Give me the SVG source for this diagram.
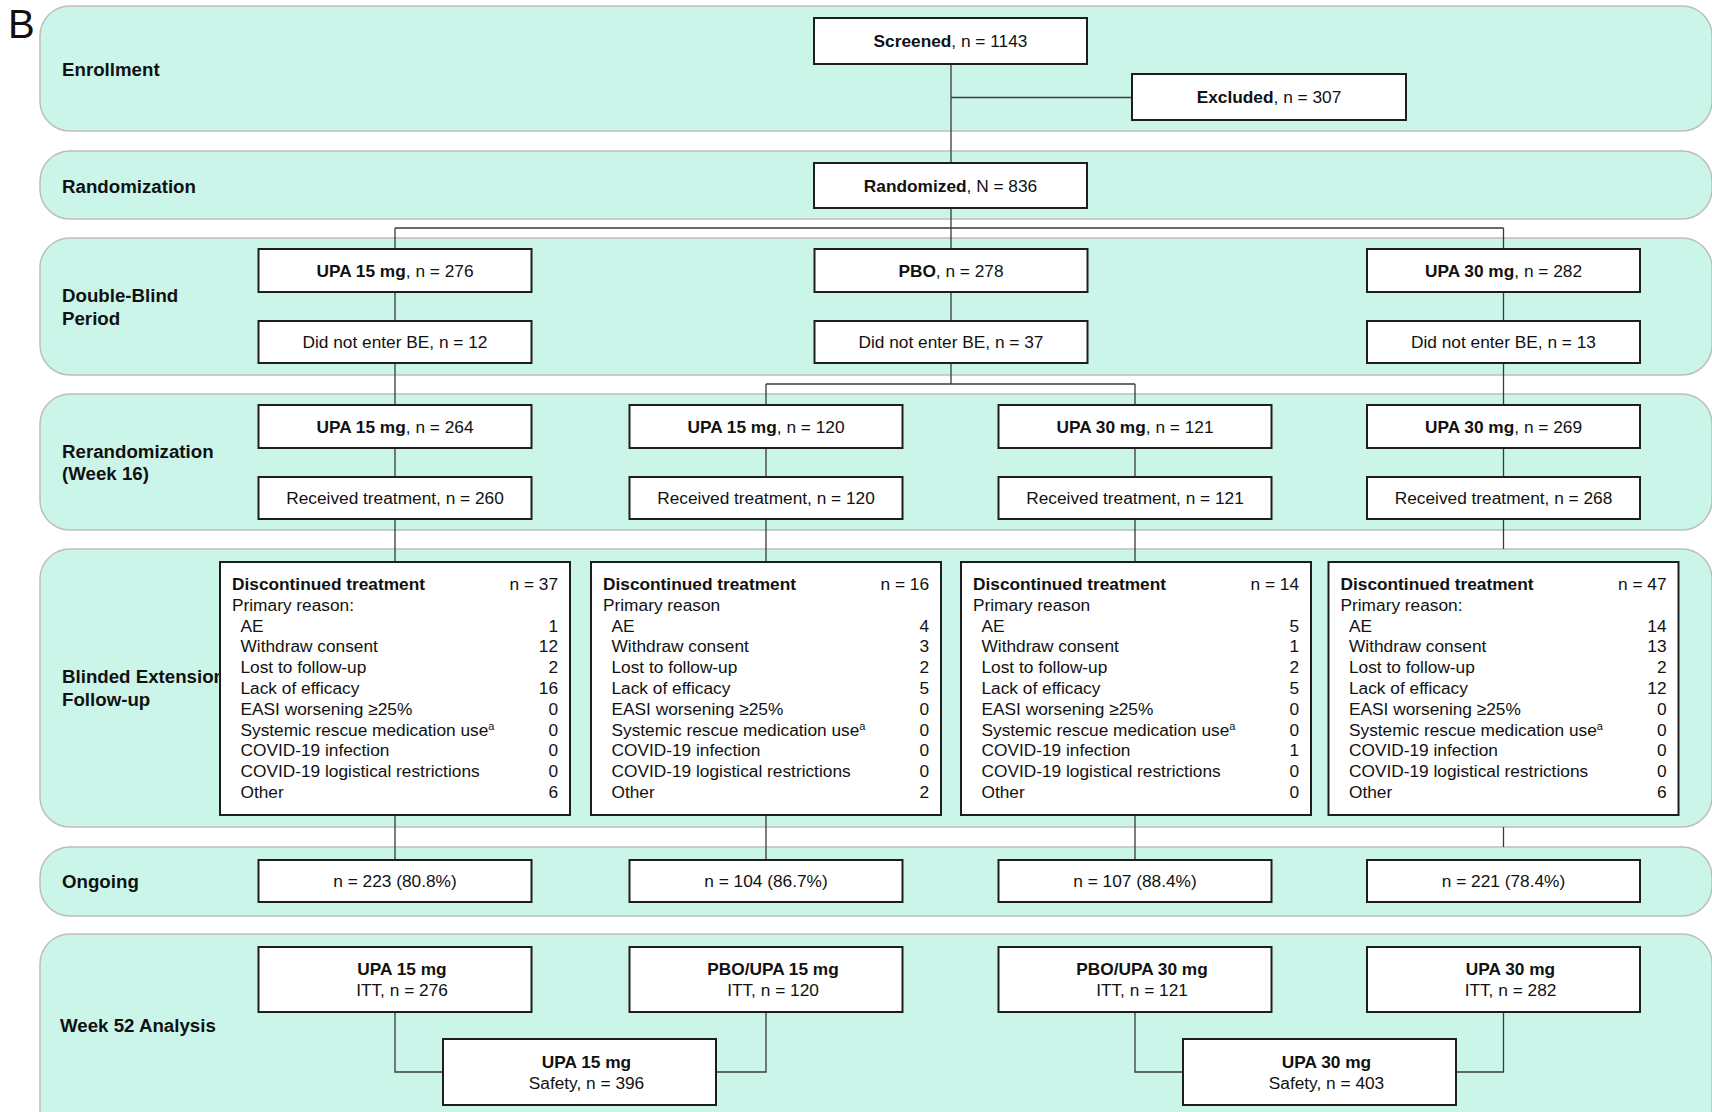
<svg xmlns="http://www.w3.org/2000/svg" width="1712" height="1112" viewBox="0 0 1712 1112">
<style>
.band{fill:#CCF5EA;stroke:#BDBDBD;stroke-width:1.5}
.box{fill:#fff;stroke:#1e1e1e;stroke-width:2}
.lbl{font-family:"Liberation Sans",Arial,sans-serif;font-size:18.7px;font-weight:bold;fill:#111}
.t{font-family:"Liberation Sans",Arial,sans-serif;font-size:17.3px;fill:#111}
.b{font-weight:bold}
.c{text-anchor:middle}
.r{text-anchor:end}
.conn path{stroke:#3a3a3a;stroke-width:1.3;fill:none}
</style>
<rect width="1712" height="1112" fill="#fff"/>
<text x="8" y="38" font-family="Liberation Sans, Arial, sans-serif" font-size="40" fill="#111">B</text>
<g id="bands">
<rect class="band" x="40" y="6" width="1672" height="125" rx="30"/>
<rect class="band" x="40" y="151" width="1672" height="68" rx="30"/>
<rect class="band" x="40" y="238" width="1672" height="137" rx="30"/>
<rect class="band" x="40" y="394" width="1672" height="136" rx="30"/>
<rect class="band" x="40" y="549" width="1672" height="278" rx="30"/>
<rect class="band" x="40" y="847" width="1672" height="69" rx="30"/>
<rect class="band" x="40" y="934" width="1672" height="220" rx="30"/>
</g>
<g id="labels">
<text class="lbl" x="62" y="76">Enrollment</text>
<text class="lbl" x="62" y="192.5">Randomization</text>
<text class="lbl" x="62" y="302">Double-Blind</text>
<text class="lbl" x="62" y="324.5">Period</text>
<text class="lbl" x="62" y="457.5">Rerandomization</text>
<text class="lbl" x="62" y="480">(Week 16)</text>
<text class="lbl" x="62" y="683">Blinded Extension</text>
<text class="lbl" x="62" y="706">Follow-up</text>
<text class="lbl" x="62" y="888">Ongoing</text>
<text class="lbl" x="60" y="1031.5">Week 52 Analysis</text>
</g>
<g id="connectors" class="conn">
<path d="M951 64V163M951 97.5H1132M951 208V228M395 228H1503.5"/>
<path d="M395 228V249M951 228V249M1503.5 228V249"/>
<path d="M395 292V321M951 292V321M1503.5 292V321"/>
<path d="M395 363V405M951 363V384M766 384H1135M766 384V405M1135 384V405M1503.5 363V405"/>
<path d="M395 448V477M766 448V477M1135 448V477M1503.5 448V477"/>
<path d="M395 519V562M766 519V562M1135 519V562M1503.5 519V549"/>
<path d="M395 815V860M766 815V860M1135 815V860M1503.5 827V847"/>
<path d="M395 1012V1072H443M766 1012V1072H716M1135 1012V1072H1183M1503.5 1012V1072H1456"/>
</g>
<g id="screened"><rect class="box" x="814" y="18" width="273" height="46"/><text class="t c" x="950.5" y="47"><tspan class="b">Screened</tspan>, n = 1143</text></g>
<g id="excluded"><rect class="box" x="1132" y="74" width="274" height="46"/><text class="t c" x="1269" y="103"><tspan class="b">Excluded</tspan>, n = 307</text></g>
<g id="randomized"><rect class="box" x="814" y="163" width="273" height="45"/><text class="t c" x="950.5" y="191.5"><tspan class="b">Randomized</tspan>, N = 836</text></g>
<g id="db-upa15"><rect class="box" x="258.5" y="249" width="273" height="43"/><text class="t c" x="395" y="276.5"><tspan class="b">UPA 15 mg</tspan>, n = 276</text></g>
<g id="db-pbo"><rect class="box" x="814.5" y="249" width="273" height="43"/><text class="t c" x="951" y="276.5"><tspan class="b">PBO</tspan>, n = 278</text></g>
<g id="db-upa30"><rect class="box" x="1367" y="249" width="273" height="43"/><text class="t c" x="1503.5" y="276.5"><tspan class="b">UPA 30 mg</tspan>, n = 282</text></g>
<g id="dne-upa15"><rect class="box" x="258.5" y="321" width="273" height="42"/><text class="t c" x="395" y="348">Did not enter BE, n = 12</text></g>
<g id="dne-pbo"><rect class="box" x="814.5" y="321" width="273" height="42"/><text class="t c" x="951" y="348">Did not enter BE, n = 37</text></g>
<g id="dne-upa30"><rect class="box" x="1367" y="321" width="273" height="42"/><text class="t c" x="1503.5" y="348">Did not enter BE, n = 13</text></g>
<g id="rr-upa15"><rect class="box" x="258.5" y="405" width="273" height="43"/><text class="t c" x="395" y="432.5"><tspan class="b">UPA 15 mg</tspan>, n = 264</text></g>
<g id="rr-pbo15"><rect class="box" x="629.5" y="405" width="273" height="43"/><text class="t c" x="766" y="432.5"><tspan class="b">UPA 15 mg</tspan>, n = 120</text></g>
<g id="rr-pbo30"><rect class="box" x="998.5" y="405" width="273" height="43"/><text class="t c" x="1135" y="432.5"><tspan class="b">UPA 30 mg</tspan>, n = 121</text></g>
<g id="rr-upa30"><rect class="box" x="1367" y="405" width="273" height="43"/><text class="t c" x="1503.5" y="432.5"><tspan class="b">UPA 30 mg</tspan>, n = 269</text></g>
<g id="rt-1"><rect class="box" x="258.5" y="477" width="273" height="42"/><text class="t c" x="395" y="504">Received treatment, n = 260</text></g>
<g id="rt-2"><rect class="box" x="629.5" y="477" width="273" height="42"/><text class="t c" x="766" y="504">Received treatment, n = 120</text></g>
<g id="rt-3"><rect class="box" x="998.5" y="477" width="273" height="42"/><text class="t c" x="1135" y="504">Received treatment, n = 121</text></g>
<g id="rt-4"><rect class="box" x="1367" y="477" width="273" height="42"/><text class="t c" x="1503.5" y="504">Received treatment, n = 268</text></g>
<g id="disc-1">
<rect class="box" x="220" y="562" width="350" height="253"/>
<text class="t b" x="232" y="590">Discontinued treatment</text><text class="t r" x="558" y="590">n = 37</text>
<text class="t" x="232" y="610.8">Primary reason:</text>
<text class="t" x="240.5"><tspan x="240.5" y="631.6">AE</tspan><tspan x="240.5" y="652.4">Withdraw consent</tspan><tspan x="240.5" y="673.2">Lost to follow-up</tspan><tspan x="240.5" y="694">Lack of efficacy</tspan><tspan x="240.5" y="714.8">EASI worsening ≥25%</tspan><tspan x="240.5" y="735.6">Systemic rescue medication use</tspan><tspan font-size="11" dy="-6">a</tspan><tspan x="240.5" y="756.4">COVID-19 infection</tspan><tspan x="240.5" y="777.2">COVID-19 logistical restrictions</tspan><tspan x="240.5" y="798">Other</tspan></text>
<text class="t r"><tspan x="558" y="631.6">1</tspan><tspan x="558" y="652.4">12</tspan><tspan x="558" y="673.2">2</tspan><tspan x="558" y="694">16</tspan><tspan x="558" y="714.8">0</tspan><tspan x="558" y="735.6">0</tspan><tspan x="558" y="756.4">0</tspan><tspan x="558" y="777.2">0</tspan><tspan x="558" y="798">6</tspan></text>
</g>
<g id="disc-2">
<rect class="box" x="591" y="562" width="350" height="253"/>
<text class="t b" x="603" y="590">Discontinued treatment</text><text class="t r" x="929" y="590">n = 16</text>
<text class="t" x="603" y="610.8">Primary reason</text>
<text class="t"><tspan x="611.5" y="631.6">AE</tspan><tspan x="611.5" y="652.4">Withdraw consent</tspan><tspan x="611.5" y="673.2">Lost to follow-up</tspan><tspan x="611.5" y="694">Lack of efficacy</tspan><tspan x="611.5" y="714.8">EASI worsening ≥25%</tspan><tspan x="611.5" y="735.6">Systemic rescue medication use</tspan><tspan font-size="11" dy="-6">a</tspan><tspan x="611.5" y="756.4">COVID-19 infection</tspan><tspan x="611.5" y="777.2">COVID-19 logistical restrictions</tspan><tspan x="611.5" y="798">Other</tspan></text>
<text class="t r"><tspan x="929" y="631.6">4</tspan><tspan x="929" y="652.4">3</tspan><tspan x="929" y="673.2">2</tspan><tspan x="929" y="694">5</tspan><tspan x="929" y="714.8">0</tspan><tspan x="929" y="735.6">0</tspan><tspan x="929" y="756.4">0</tspan><tspan x="929" y="777.2">0</tspan><tspan x="929" y="798">2</tspan></text>
</g>
<g id="disc-3">
<rect class="box" x="961" y="562" width="350" height="253"/>
<text class="t b" x="973" y="590">Discontinued treatment</text><text class="t r" x="1299" y="590">n = 14</text>
<text class="t" x="973" y="610.8">Primary reason</text>
<text class="t"><tspan x="981.5" y="631.6">AE</tspan><tspan x="981.5" y="652.4">Withdraw consent</tspan><tspan x="981.5" y="673.2">Lost to follow-up</tspan><tspan x="981.5" y="694">Lack of efficacy</tspan><tspan x="981.5" y="714.8">EASI worsening ≥25%</tspan><tspan x="981.5" y="735.6">Systemic rescue medication use</tspan><tspan font-size="11" dy="-6">a</tspan><tspan x="981.5" y="756.4">COVID-19 infection</tspan><tspan x="981.5" y="777.2">COVID-19 logistical restrictions</tspan><tspan x="981.5" y="798">Other</tspan></text>
<text class="t r"><tspan x="1299" y="631.6">5</tspan><tspan x="1299" y="652.4">1</tspan><tspan x="1299" y="673.2">2</tspan><tspan x="1299" y="694">5</tspan><tspan x="1299" y="714.8">0</tspan><tspan x="1299" y="735.6">0</tspan><tspan x="1299" y="756.4">1</tspan><tspan x="1299" y="777.2">0</tspan><tspan x="1299" y="798">0</tspan></text>
</g>
<g id="disc-4">
<rect class="box" x="1328.5" y="562" width="350" height="253"/>
<text class="t b" x="1340.5" y="590">Discontinued treatment</text><text class="t r" x="1666.5" y="590">n = 47</text>
<text class="t" x="1340.5" y="610.8">Primary reason:</text>
<text class="t"><tspan x="1349" y="631.6">AE</tspan><tspan x="1349" y="652.4">Withdraw consent</tspan><tspan x="1349" y="673.2">Lost to follow-up</tspan><tspan x="1349" y="694">Lack of efficacy</tspan><tspan x="1349" y="714.8">EASI worsening ≥25%</tspan><tspan x="1349" y="735.6">Systemic rescue medication use</tspan><tspan font-size="11" dy="-6">a</tspan><tspan x="1349" y="756.4">COVID-19 infection</tspan><tspan x="1349" y="777.2">COVID-19 logistical restrictions</tspan><tspan x="1349" y="798">Other</tspan></text>
<text class="t r"><tspan x="1666.5" y="631.6">14</tspan><tspan x="1666.5" y="652.4">13</tspan><tspan x="1666.5" y="673.2">2</tspan><tspan x="1666.5" y="694">12</tspan><tspan x="1666.5" y="714.8">0</tspan><tspan x="1666.5" y="735.6">0</tspan><tspan x="1666.5" y="756.4">0</tspan><tspan x="1666.5" y="777.2">0</tspan><tspan x="1666.5" y="798">6</tspan></text>
</g>
<g id="ong-1"><rect class="box" x="258.5" y="860" width="273" height="42"/><text class="t c" x="395" y="887">n = 223 (80.8%)</text></g>
<g id="ong-2"><rect class="box" x="629.5" y="860" width="273" height="42"/><text class="t c" x="766" y="887">n = 104 (86.7%)</text></g>
<g id="ong-3"><rect class="box" x="998.5" y="860" width="273" height="42"/><text class="t c" x="1135" y="887">n = 107 (88.4%)</text></g>
<g id="ong-4"><rect class="box" x="1367" y="860" width="273" height="42"/><text class="t c" x="1503.5" y="887">n = 221 (78.4%)</text></g>
<g id="itt-1"><rect class="box" x="258.5" y="947" width="273" height="65"/><text class="t c b" x="402" y="975">UPA 15 mg</text><text class="t c" x="402" y="996">ITT, n = 276</text></g>
<g id="itt-2"><rect class="box" x="629.5" y="947" width="273" height="65"/><text class="t c b" x="773" y="975">PBO/UPA 15 mg</text><text class="t c" x="773" y="996">ITT, n = 120</text></g>
<g id="itt-3"><rect class="box" x="998.5" y="947" width="273" height="65"/><text class="t c b" x="1142" y="975">PBO/UPA 30 mg</text><text class="t c" x="1142" y="996">ITT, n = 121</text></g>
<g id="itt-4"><rect class="box" x="1367" y="947" width="273" height="65"/><text class="t c b" x="1510.5" y="975">UPA 30 mg</text><text class="t c" x="1510.5" y="996">ITT, n = 282</text></g>
<g id="safety-15"><rect class="box" x="443" y="1039" width="273" height="66"/><text class="t c b" x="586.5" y="1068">UPA 15 mg</text><text class="t c" x="586.5" y="1089">Safety, n = 396</text></g>
<g id="safety-30"><rect class="box" x="1183" y="1039" width="273" height="66"/><text class="t c b" x="1326.5" y="1068">UPA 30 mg</text><text class="t c" x="1326.5" y="1089">Safety, n = 403</text></g>
</svg>
